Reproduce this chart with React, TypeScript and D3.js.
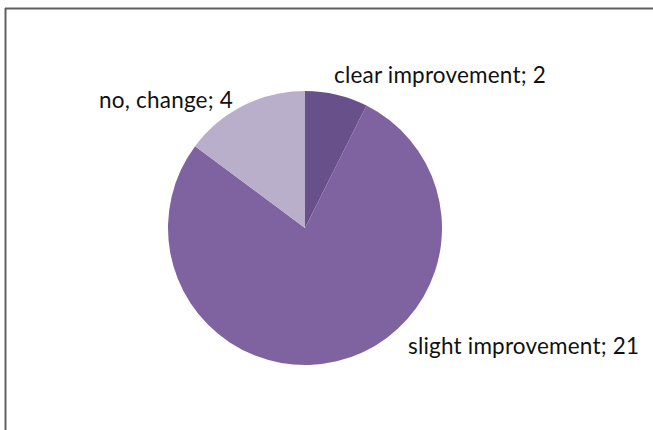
import React from "react";
import * as d3 from "d3";

const categories = ["clear improvement", "slight improvement", "no, change"];
const values = [2, 21, 4];
const colors = ["#68518a", "#7f63a0", "#b9afcb"];
const labelPos = [
  { x: 334, y: 83, anchor: "start" },
  { x: 408, y: 354, anchor: "start" },
  { x: 233, y: 108, anchor: "end" },
];

export default function App() {
  const W = 653, H = 430;
  const cx = 305, cy = 228, r = 137;
  const pie = d3.pie<number>().sort(null)(values);
  const arc = d3.arc<d3.PieArcDatum<number>>().innerRadius(0).outerRadius(r);
  return (
    <svg width={W} height={H} style={{ position: "absolute", left: 0, top: 0 }}>
      <rect x={0} y={0} width={W} height={H} fill="#fff" />
      <line x1={5} y1={8.5} x2={W} y2={8.5} stroke="#606060" strokeWidth={2} />
      <line x1={5.5} y1={8} x2={5.5} y2={H} stroke="#606060" strokeWidth={2} />
      <g transform={`translate(${cx},${cy})`}>
        {pie.map((d, i) => (
          <path key={i} d={arc(d) as string} fill={colors[i]} />
        ))}
      </g>
      {categories.map((c, i) => (
        <text
          key={c}
          x={labelPos[i].x}
          y={labelPos[i].y}
          textAnchor={labelPos[i].anchor as any}
          fontFamily="Lato, sans-serif"
          fontSize={22.5}
          letterSpacing={0.2}
          fill="#111"
        >
          {`${c}; ${values[i]}`}
        </text>
      ))}
    </svg>
  );
}
